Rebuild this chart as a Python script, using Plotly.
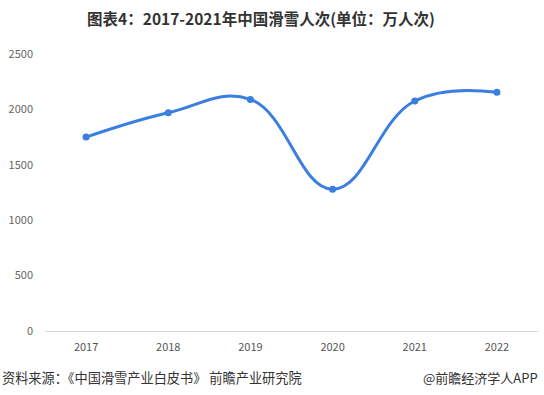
import plotly.graph_objects as go

years = ["2017", "2018", "2019", "2020", "2021", "2022"]
visits = [1750, 1970, 2090, 1280, 2076, 2154]
y_ticks = [0, 500, 1000, 1500, 2000, 2500]

FONT = "Noto Sans CJK SC, Noto Sans, sans-serif"

fig = go.Figure()
fig.add_trace(go.Scatter(
    x=years, y=visits, mode="lines+markers",
    line=dict(color="#3a7fe0", width=3, shape="spline", smoothing=1.2),
    marker=dict(color="#3a7fe0", size=7),
    hoverinfo="x+y", showlegend=False,
))

fig.update_layout(
    width=544, height=395,
    margin=dict(l=45, r=6, t=54, b=64),
    paper_bgcolor="white", plot_bgcolor="white",
    font=dict(family=FONT, size=11, color="#666"),
    title=dict(text="<b>图表4：2017-2021年中国滑雪人次(单位：万人次)</b>",
               x=261/544, xanchor="center", y=0.95, yanchor="middle",
               font=dict(family=FONT, size=15.5, color="#333")),
)
fig.update_xaxes(type="category", showgrid=False, showline=True, linecolor="#d9d9d9",
                 ticks="", tickfont=dict(size=11, color="#555"), ticklabelstandoff=6,
                 range=[-0.5, 5.5], zeroline=False)
fig.update_yaxes(range=[0, 2500], tickvals=y_ticks, showgrid=False, zeroline=False,
                 showline=False, ticks="", tickfont=dict(size=11, color="#666"),
                 ticklabelstandoff=11)

fig.add_annotation(text="资料来源：《中国滑雪产业白皮书》 前瞻产业研究院", xref="paper", yref="paper",
                   x=-45/493, y=-46/277, xanchor="left", yanchor="middle", showarrow=False,
                   font=dict(family=FONT, size=13.2, color="#333"))
fig.add_annotation(text="@前瞻经济学人APP", xref="paper", yref="paper",
                   x=1.005, y=-46/277, xanchor="right", yanchor="middle", showarrow=False,
                   font=dict(family=FONT, size=13, color="#333"))

fig.write_html("out.html")
